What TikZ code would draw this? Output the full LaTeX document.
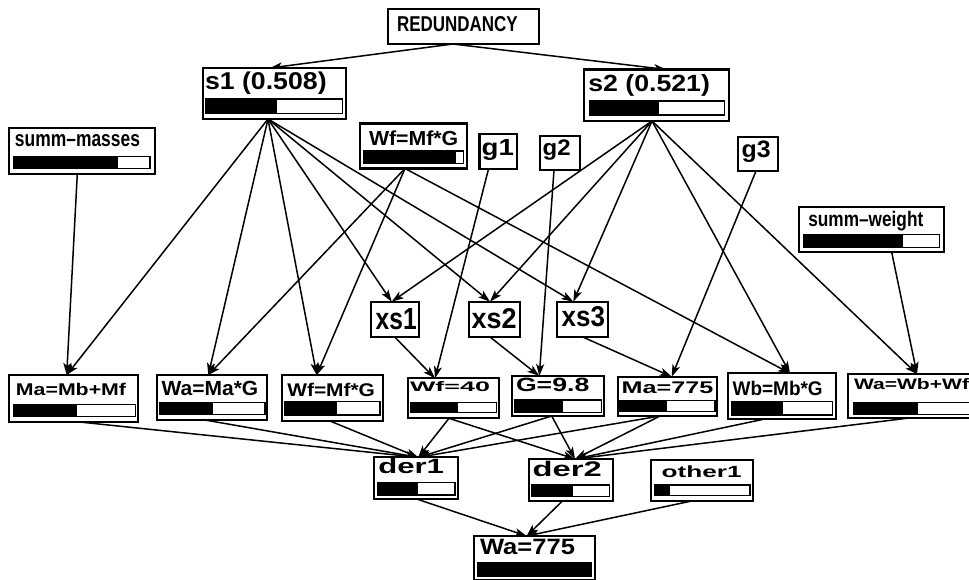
\documentclass[tikz,border=0pt]{standalone}
\usepackage{fontspec}
\setmainfont{Liberation Sans}
\usepackage{graphicx}
\usetikzlibrary{arrows.meta,backgrounds}
\tikzset{
 boxst/.style={draw, line width=2.2pt, fill=white, inner sep=0pt, outer sep=0pt, anchor=north west},
 barst/.style={draw, line width=1.3pt},
 txt/.style={inner sep=0pt, outer sep=0pt, anchor=base west, font=\bfseries},
 edge/.style={line width=1.5pt, -{Stealth[length=12pt,width=8pt,inset=3pt]}},
}
\newcommand\vnode[5]{\node[boxst, minimum width={(#4-#2)*1pt}, minimum height={(#5-#3)*1pt}] (#1) at (#2,#3) {};}
\newcommand\vtext[6]{\node[txt] (#1) at (#2,#3) {\resizebox{#4pt}{#5pt}{#6}};}
\newcommand\vbar[5]{\fill (#1,#2) rectangle (#5,#4); \draw[barst] (#1,#2) rectangle (#3,#4);}
\newcommand\edg[4]{\draw[edge] ([xshift=#2pt]#1.south) -- ([xshift=#4pt]#3.north);}
\begin{document}
\begin{tikzpicture}[x=1pt,y=-1pt]
\useasboundingbox (0,0) rectangle (969,579);
\clip (0,0) rectangle (969,579);

\vnode{red}{388}{9}{539}{44}
\vtext{red-t}{397}{31.7}{120.6}{15}{REDUNDANCY}

\vnode{s1}{203}{68}{346}{119}
\vtext{s1-t}{205}{89.3}{121.7}{17.6}{s1 (0.508)}
\vbar{206}{99}{342.7}{113.3}{276.7}

\vnode{s2}{584.3}{69.5}{729.3}{121}
\vtext{s2-t}{588.3}{91}{121.7}{17}{s2 (0.521)}
\vbar{589.3}{101}{724.3}{115}{659}

\vnode{sm}{9.3}{128.3}{155}{174}
\vtext{sm-t}{15}{146}{125}{12}{summ–masses}
\vbar{14}{156.7}{150}{168.3}{118.3}

\vnode{wft}{360}{123.5}{467.3}{168.5}
\vtext{wft-t}{369}{145.7}{89.3}{14.7}{Wf=Mf*G}
\vbar{364}{151}{463.3}{163.3}{456}

\vnode{g1}{479.5}{134}{516.7}{169}
\vtext{g1-t}{481.7}{155}{32.3}{16}{g1}
\vnode{g2}{540}{135.7}{580}{170}
\vtext{g2-t}{542.7}{155.7}{28}{15.7}{g2}
\vnode{g3}{738.3}{137.3}{778.3}{171}
\vtext{g3-t}{741.7}{157.3}{29}{16.6}{g3}

\vnode{sw}{799.3}{207.3}{944.3}{252.3}
\vtext{sw-t}{808.3}{226}{115}{15.3}{summ–weight}
\vbar{803.3}{234.3}{939.3}{247.7}{903.3}

\vnode{xs1}{371}{301.7}{419}{337.3}
\vtext{xs1-t}{375.7}{329.3}{41}{21}{xs1}
\vnode{xs2}{469.3}{301.7}{520}{337}
\vtext{xs2-t}{471.7}{328.3}{45}{20}{xs2}
\vnode{xs3}{557.3}{301.7}{608.3}{337}
\vtext{xs3-t}{561.7}{326.7}{43.3}{20}{xs3}

\vnode{ma}{9.3}{375}{138.3}{421.7}
\vtext{ma-t}{16}{395}{110}{12.3}{Ma=Mb+Mf}
\vbar{14}{404.3}{135.7}{416.7}{76.7}

\vnode{wa1}{156.7}{375}{266.7}{420}
\vtext{wa1-t}{161.7}{395}{96.6}{14.3}{Wa=Ma*G}
\vbar{160}{402.7}{265}{414.3}{213.3}

\vnode{wf1}{281.7}{375}{383.3}{421}
\vtext{wf1-t}{287.3}{396}{87.7}{13.3}{Wf=Mf*G}
\vbar{285}{401.7}{380}{415}{336.7}

\vnode{wf40}{407.7}{378.3}{499}{418.3}
\vtext{wf40-t}{410}{391.7}{80}{10}{Wf=40}
\vbar{411}{402.3}{496.7}{412.3}{458.3}

\vnode{g98}{512.3}{376}{604}{416}
\vtext{g98-t}{516}{391.7}{73.3}{13.4}{G=9.8}
\vbar{515}{400}{601.7}{412.7}{562.7}

\vnode{ma775}{618.3}{376.7}{717.3}{416}
\vtext{ma775-t}{621.7}{393.3}{91.6}{11.6}{Ma=775}
\vbar{620}{400.7}{715}{411.7}{666.7}

\vnode{wb}{728.3}{373.3}{836}{419.3}
\vtext{wb-t}{732.7}{395}{90}{14.3}{Wb=Mb*G}
\vbar{731.7}{401.7}{832.7}{415}{783.3}

\vnode{wa2}{848.3}{374}{987}{418.3}
\vtext{wa2-t}{854}{389.3}{115}{11}{Wa=Wb+Wf}
\vbar{854}{402.7}{983}{414.3}{918.3}

\vnode{der1}{374.3}{457.3}{458.3}{499}
\vtext{der1-t}{378.3}{473.3}{65.7}{15}{der1}
\vbar{377.3}{482.3}{455}{495}{418.3}

\vnode{der2}{529}{459}{612.7}{500.7}
\vtext{der2-t}{532.7}{476}{69}{15.3}{der2}
\vbar{531.7}{485}{609.3}{496.7}{572.7}

\vnode{oth}{650.7}{460}{753.3}{500.7}
\vtext{oth-t}{661.7}{477.7}{80}{11.7}{other1}
\vbar{655}{485}{750}{495.7}{670}

\vnode{wa775}{474.3}{536}{595}{580}
\vtext{wa775-t}{480}{554.3}{95}{15.3}{Wa=775}
\vbar{477.7}{562.7}{591.7}{576}{591.7}

\begin{pgfonlayer}{background}
\edg{red}{-10.5}{s1}{-4.5}
\edg{red}{-10.5}{s2}{9.2}
\edg{s1}{-6.5}{ma}{-7.1}
\edg{s1}{-6.5}{wa1}{-3.4}
\edg{s1}{-6.5}{wf1}{-15.8}
\edg{s1}{-6.5}{xs1}{-3.3}
\edg{s1}{-6.5}{xs2}{-4.65}
\edg{s1}{-6.5}{xs3}{-9.5}
\edg{s2}{-4.8}{xs1}{-3.3}
\edg{s2}{-4.8}{xs2}{-4.65}
\edg{s2}{-4.8}{xs3}{-9.5}
\edg{s2}{-4.8}{wb}{7.85}
\edg{s2}{-4.8}{wa2}{-0.65}
\edg{sm}{-4.85}{ma}{-7.1}
\edg{wft}{-8.65}{wa1}{-3.4}
\edg{wft}{-8.65}{wf1}{-15.8}
\edg{wft}{-8.65}{wb}{7.85}
\edg{g1}{-9.6}{wf40}{-18.35}
\edg{g2}{-6}{g98}{-18.85}
\edg{g3}{-2.3}{ma775}{3.9}
\edg{sw}{19.9}{wa2}{-0.65}
\edg{xs1}{0}{wf40}{-18.35}
\edg{xs2}{-4.65}{g98}{-18.85}
\edg{xs3}{0}{ma775}{3.9}
\edg{ma}{2.9}{der1}{2}
\edg{wa1}{-6.7}{der1}{2}
\edg{wf1}{-2.5}{der1}{2}
\edg{wf40}{-4.35}{der1}{2}
\edg{wf40}{-4.35}{der2}{4.15}
\edg{g98}{-6.45}{der1}{2}
\edg{g98}{-6.45}{der2}{4.15}
\edg{ma775}{-7.8}{der1}{2}
\edg{ma775}{-7.8}{der2}{4.15}
\edg{wb}{-18.85}{der2}{4.15}
\edg{wa2}{-10.95}{der2}{4.15}
\edg{der1}{0.4}{wa775}{-7.95}
\edg{der2}{-8.15}{wa775}{-7.95}
\edg{oth}{-9}{wa775}{-7.95}
\end{pgfonlayer}
\end{tikzpicture}
\end{document}
